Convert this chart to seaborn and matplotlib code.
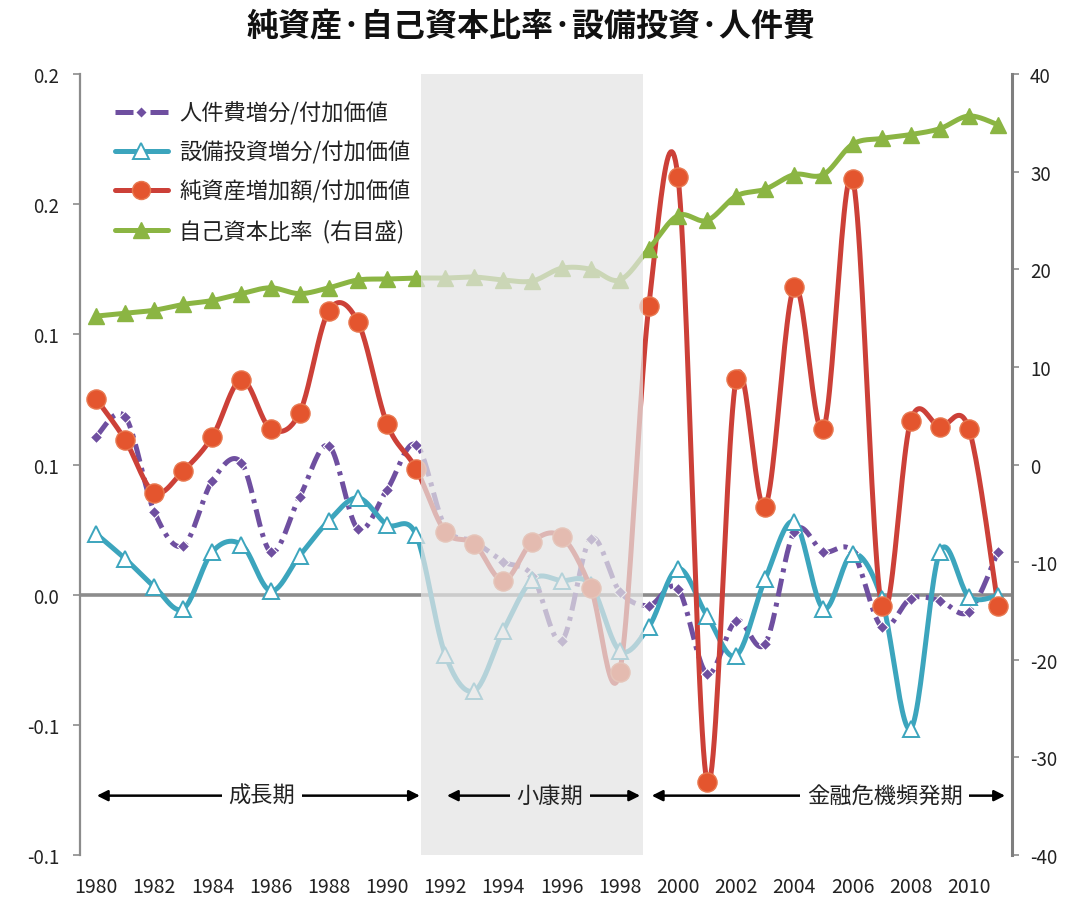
import numpy as np
import pandas as pd
import matplotlib
matplotlib.use("Agg")
import matplotlib.pyplot as plt
from matplotlib.lines import Line2D
import seaborn as sns

# ---------------- data ----------------
years = list(range(1980, 2012))
labor = [0.0607, 0.0684, 0.0319, 0.0188, 0.0438, 0.0507, 0.0165, 0.0376, 0.0572, 0.0253,
         0.0403, 0.0576, 0.0260, 0.0204, 0.0127, 0.0073, -0.0177, 0.0215, 0.0012, -0.0042,
         0.0023, -0.0303, -0.0100, -0.0188, 0.0242, 0.0165, 0.0165, -0.0123, -0.0015, -0.0023,
         -0.0065, 0.0165]
capex = [0.0234, 0.0138, 0.0031, -0.0054, 0.0165, 0.0192, 0.0015, 0.0150, 0.0284, 0.0372,
         0.0269, 0.0230, -0.0230, -0.0369, -0.0138, 0.0058, 0.0054, 0.0038, -0.0215, -0.0123,
         0.0100, -0.0081, -0.0234, 0.0061, 0.0280, -0.0054, 0.0157, -0.0015, -0.0515, 0.0165,
         -0.0008, -0.0004]
netasset = [0.0753, 0.0595, 0.0392, 0.0476, 0.0607, 0.0826, 0.0637, 0.0699, 0.1091, 0.1048,
            0.0657, 0.0484, 0.0242, 0.0196, 0.0054, 0.0204, 0.0223, 0.0027, -0.0296, 0.1110,
            0.1605, -0.0718, 0.0829, 0.0338, 0.1183, 0.0637, 0.1598, -0.0042, 0.0668, 0.0645,
            0.0637, -0.0042]
equity_ratio = [15.2, 15.5, 15.8, 16.4, 16.8, 17.5, 18.1, 17.5, 18.1, 18.9,
                19.0, 19.1, 19.1, 19.2, 18.9, 18.8, 20.1, 20.0, 18.9, 22.1,
                25.5, 25.0, 27.5, 28.2, 29.7, 29.7, 32.8, 33.4, 33.8, 34.4,
                35.7, 34.8]

series_names = ["人件費増分/付加価値", "設備投資増分/付加価値", "純資産増加額/付加価値", "自己資本比率  (右目盛)"]
title = "純資産·自己資本比率·設備投資·人件費"
left_ticks = [-0.1, -0.05, 0.0, 0.05, 0.1, 0.15, 0.2]
left_ticklabels = ["-0.1", "-0.1", "0.0", "0.1", "0.1", "0.2", "0.2"]
right_ticks = [-40, -30, -20, -10, 0, 10, 20, 30, 40]
x_ticks = list(range(1980, 2011, 2))
periods = ["成長期", "小康期", "金融危機頻発期"]
period_spans = [(1980.03, 1991.13), (1992.06, 1998.7), (1999.1, 2011.24)]
period_label_x = [1985.7, 1995.6, 2007.1]
period_level = -0.0772
shade_span = (1991.17, 1998.8)

# ---------------- helpers ----------------
def smooth(xs, ys, n=24):
    xs = np.asarray(xs, float); ys = np.asarray(ys, float)
    outx, outy = [], []
    m = len(xs)
    for i in range(m - 1):
        i0 = max(i - 1, 0); i3 = min(i + 2, m - 1)
        p0, p1, p2, p3 = (np.array([xs[k], ys[k]]) for k in (i0, i, i + 1, i3))
        c1 = p1 + (p2 - p0) / 6.0
        c2 = p2 - (p3 - p1) / 6.0
        t = np.linspace(0, 1, n, endpoint=(i == m - 2))[:, None]
        b = (1 - t) ** 3 * p1 + 3 * (1 - t) ** 2 * t * c1 + 3 * (1 - t) * t ** 2 * c2 + t ** 3 * p2
        outx.extend(b[:, 0]); outy.extend(b[:, 1])
    return pd.DataFrame({"x": outx, "y": outy})

sns.set_theme(style="white")
plt.rcParams["font.family"] = ["Noto Sans CJK JP", "DejaVu Sans"]

c_purple = "#6F4FA0"
c_cyan = "#3CA5BD"
c_red_line = "#CC4038"
c_red_mark = "#E4552E"
c_green = "#8BB543"
dash_pat = [3.6, 1.3, 0.8, 1.3]

fig = plt.figure(figsize=(10.68, 9.04), dpi=100)
ax = fig.add_axes([80 / 1068, 1 - 856 / 904, (1012 - 80) / 1068, (856 - 75) / 904])
ax.set_facecolor("none")
ax2 = ax.twinx()

# zero line
ax.axhline(0, color="#8C8C8C", lw=2.6, zorder=1)

# purple (labor)
d = smooth(years, labor)
sns.lineplot(data=d, x="x", y="y", ax=ax, sort=False, estimator=None, color=c_purple,
             lw=3.6, zorder=3)
ax.lines[-1].set_dashes(dash_pat)
ax.lines[-1].set_dash_capstyle("butt")
sns.scatterplot(x=years, y=labor, ax=ax, marker="D", s=38, color=c_purple,
                edgecolor="white", linewidth=0.8, zorder=4)

# cyan (capex)
d = smooth(years, capex)
sns.lineplot(data=d, x="x", y="y", ax=ax, sort=False, estimator=None, color=c_cyan, lw=3.6, zorder=3)
ax.plot(years, capex, ls="none", marker="^", ms=12, mfc="white", mec=c_cyan, mew=1.4, zorder=4)

# red (net assets)
d = smooth(years, netasset)
sns.lineplot(data=d, x="x", y="y", ax=ax, sort=False, estimator=None, color=c_red_line, lw=3.6, zorder=3)
sns.scatterplot(x=years, y=netasset, ax=ax, marker="o", s=190, color=c_red_mark,
                edgecolor="#E87850", linewidth=1.0, zorder=4)

# green (equity ratio, right axis)
d = smooth(years, equity_ratio)
sns.lineplot(data=d, x="x", y="y", ax=ax2, sort=False, estimator=None, color=c_green, lw=3.6, zorder=2)
ax2.plot(years, equity_ratio, ls="none", marker="^", ms=12, color=c_green, mec=c_green, zorder=3)

# shaded period (over the lines)
ax2.axvspan(shade_span[0], shade_span[1], color="#E4E4E4", alpha=0.72, lw=0, zorder=4)

# axes limits/ticks
ax.set_xlim(1979.45, 2011.48)
ax.set_ylim(-0.1, 0.2)
ax2.set_ylim(-40, 40)
ax.set_yticks(left_ticks)
ax.set_yticklabels(left_ticklabels)
ax2.set_yticks(right_ticks)
ax2.set_yticklabels([str(v) for v in right_ticks])
ax.set_xticks(x_ticks)
ax.set_xticklabels([str(v) for v in x_ticks])
ax.set_xlabel(""); ax.set_ylabel(""); ax2.set_xlabel(""); ax2.set_ylabel("")

for a in (ax, ax2):
    for s in ("top", "bottom"):
        a.spines[s].set_visible(False)
ax.spines["left"].set_color("#8C8C8C"); ax.spines["left"].set_linewidth(1.6)
ax2.spines["right"].set_color("#7F7F7F"); ax2.spines["right"].set_linewidth(2.2)
ax2.spines["left"].set_visible(False)
ax.spines["right"].set_visible(False)

ax.tick_params(axis="y", which="major", left=True, length=5, width=1.2, color="#8C8C8C",
               labelsize=13.5, labelcolor="#222222", pad=10)
ax2.tick_params(axis="y", which="major", right=True, length=5, width=1.2, color="#8C8C8C",
                labelsize=13.5, labelcolor="#222222", pad=8)
ax.tick_params(axis="x", bottom=False, labelsize=14, labelcolor="#222222", pad=9)

# period arrows (drawn in left-axis data coordinates, on top of the shading)
trans = ax.transData
for name, (x0, x1), lx in zip(periods, period_spans, period_label_x):
    ax2.annotate("", xy=(x0, period_level), xycoords=trans,
                 xytext=(x1, period_level), textcoords=trans,
                 arrowprops=dict(arrowstyle="<|-|>", color="black", lw=1.8,
                                 mutation_scale=16, shrinkA=0, shrinkB=0), zorder=6)
    inside = shade_span[0] <= lx <= shade_span[1]
    ax2.text(lx, period_level, name, transform=trans,
             ha="center", va="center", fontsize=16, color="#222222", zorder=7,
             bbox=dict(boxstyle="square,pad=0.3", fc="#EBEBEB" if inside else "white", ec="none"))

# legend
handles = [
    Line2D([], [], color=c_purple, lw=3.6, dashes=dash_pat, marker="D", ms=6,
           mfc=c_purple, mec="white"),
    Line2D([], [], color=c_cyan, lw=3.6, marker="^", ms=12, mfc="white", mec=c_cyan, mew=1.4),
    Line2D([], [], color=c_red_line, lw=3.6, marker="o", ms=13, mfc=c_red_mark, mec="#E87850"),
    Line2D([], [], color=c_green, lw=3.6, marker="^", ms=12, mfc=c_green, mec=c_green),
]
leg = ax2.legend(handles, series_names, loc="upper left", bbox_to_anchor=(0.018, 0.988),
                 frameon=True, fontsize=16, handlelength=2.4, handletextpad=0.5,
                 labelspacing=0.72, borderpad=0.3)
leg.get_frame().set_facecolor("white"); leg.get_frame().set_edgecolor("none"); leg.get_frame().set_alpha(1)
leg.set_zorder(8)
for t in leg.get_texts():
    t.set_color("#222222")

fig.suptitle(title, x=0.497, y=0.988, fontsize=23, fontweight="bold", color="#111111")

fig.savefig("out.png", dpi=100, facecolor="white")
